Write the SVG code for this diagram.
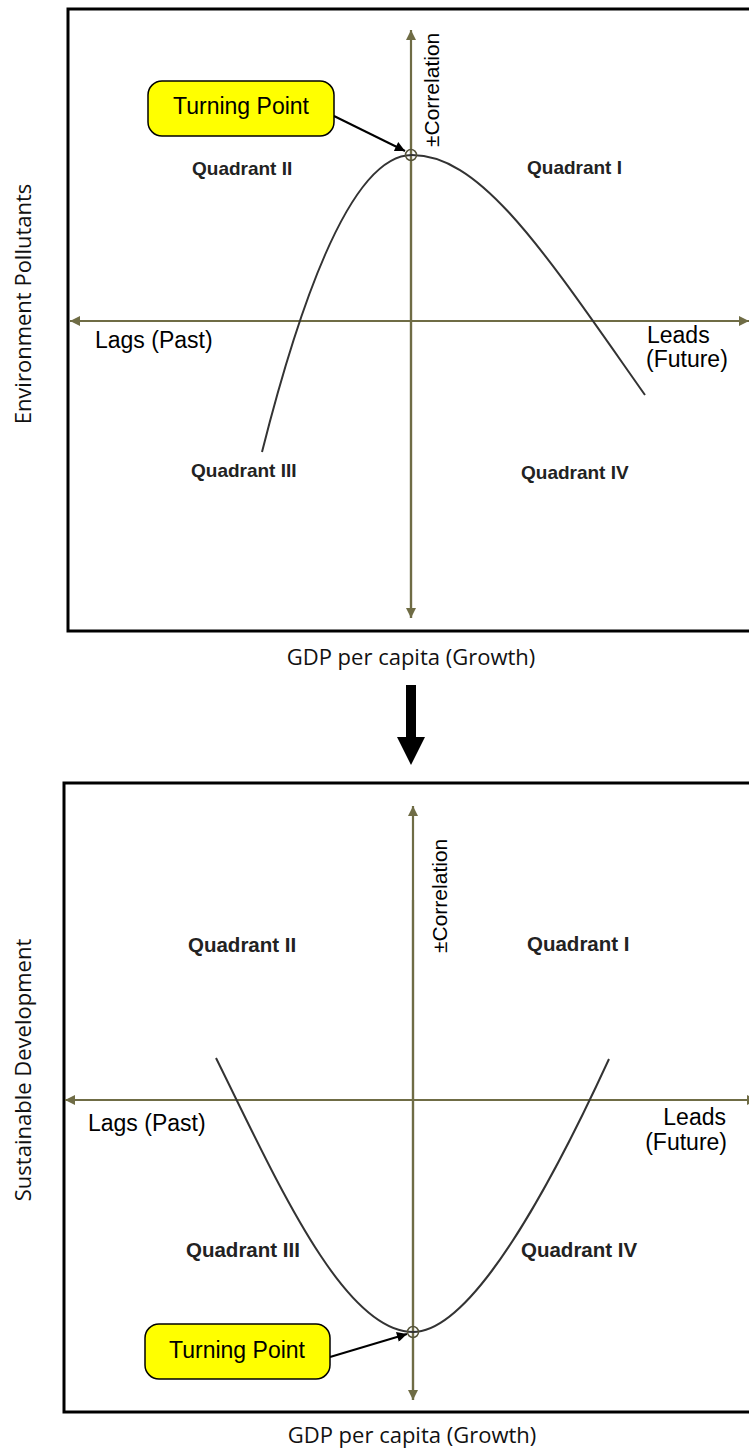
<svg xmlns="http://www.w3.org/2000/svg" width="749" height="1449" viewBox="0 0 749 1449">
<defs>
<marker id="ax" viewBox="0 0 10 10" refX="10" refY="5" markerWidth="10" markerHeight="10" markerUnits="userSpaceOnUse" orient="auto">
<path d="M0,0 L10,5 L0,10 Z" fill="#6f6c45"/>
</marker>
<marker id="bk" viewBox="0 0 10 10" refX="10" refY="5" markerWidth="11" markerHeight="10" markerUnits="userSpaceOnUse" orient="auto">
<path d="M0,0 L10,5 L0,10 Z" fill="#000"/>
</marker>
</defs>
<style>
.frame{fill:none;stroke:#000;stroke-width:3}
.axis{fill:none;stroke:#6f6c45;stroke-width:2.2}
.curve{fill:none;stroke:#333;stroke-width:2}
.tp{fill:none;stroke:#55533a;stroke-width:1.5}
.box{fill:#ffff00;stroke:#000;stroke-width:1.5}
.ptr{fill:none;stroke:#000;stroke-width:2}
.q{font-family:"Liberation Sans",Arial,sans-serif;font-weight:bold;fill:#222}
.t{font-family:"Liberation Sans",Arial,sans-serif;font-size:23px;fill:#000}
.c{font-family:"Liberation Sans",Arial,sans-serif;font-size:21px;fill:#000}
.lab{font-family:"Open Sans","Noto Sans",sans-serif;font-size:22px;fill:#111}
</style>
<rect width="749" height="1449" fill="#fff"/>

<g id="top-panel">
<rect class="frame" x="68" y="9" width="700" height="622"/>
</g>
<g id="bottom-panel">
<rect class="frame" x="64" y="783" width="700" height="629"/>
</g>

<g id="connectors">
<line class="axis" x1="411" y1="618" x2="411" y2="30" marker-end="url(#ax)"/>
<line class="axis" x1="411" y1="100" x2="411" y2="618" marker-end="url(#ax)"/>
<line class="axis" x1="411" y1="321" x2="70" y2="321" marker-end="url(#ax)"/>
<line class="axis" x1="411" y1="321" x2="749" y2="321" marker-end="url(#ax)"/>
<line class="axis" x1="413" y1="1400" x2="413" y2="806" marker-end="url(#ax)"/>
<line class="axis" x1="413" y1="900" x2="413" y2="1400" marker-end="url(#ax)"/>
<line class="axis" x1="413" y1="1100" x2="65" y2="1100" marker-end="url(#ax)"/>
<line class="axis" x1="413" y1="1100" x2="757" y2="1100" marker-end="url(#ax)"/>
<line class="ptr" x1="334" y1="116" x2="405" y2="151" marker-end="url(#bk)"/>
<line class="ptr" x1="330" y1="1357" x2="407" y2="1334" marker-end="url(#bk)"/>
<polygon points="406,685 416,685 416,737 425,737 411,765 397,737 406,737" fill="#000"/>
</g>

<g id="curve-top">
<path class="curve" d="M262,452 Q337,155 412,155 C482,155 545,253 645,395"/>
<circle class="tp" cx="411" cy="155" r="5.5"/>
</g>
<g id="curve-bottom">
<path class="curve" d="M216,1058 C275.5,1178 343,1332 413,1332 C473,1332 553.8,1179 609,1059"/>
<circle class="tp" cx="413" cy="1332" r="5.5"/>
</g>

<g id="turning-point-top">
<rect class="box" x="148" y="81" width="186" height="55" rx="14"/>
<text class="t" x="241" y="114" text-anchor="middle">Turning Point</text>
</g>
<g id="turning-point-bottom">
<rect class="box" x="145" y="1324" width="185" height="55" rx="14"/>
<text class="t" x="237" y="1358" text-anchor="middle">Turning Point</text>
</g>

<g id="labels-top">
<text class="c" transform="translate(439,147) rotate(-90)">±Correlation</text>
<text class="q" font-size="19" x="192" y="175">Quadrant II</text>
<text class="q" font-size="19" x="527" y="174">Quadrant I</text>
<text class="q" font-size="19" x="191" y="477">Quadrant III</text>
<text class="q" font-size="19" x="521" y="479">Quadrant IV</text>
<text class="t" x="95" y="348">Lags (Past)</text>
<text class="t" x="647" y="343">Leads</text>
<text class="t" x="646" y="367">(Future)</text>
<text class="lab" x="411" y="665" text-anchor="middle">GDP per capita (Growth)</text>
<text class="lab" transform="translate(31,304) rotate(-90)" text-anchor="middle">Environment Pollutants</text>
</g>

<g id="labels-bottom">
<text class="c" transform="translate(447,953) rotate(-90)">±Correlation</text>
<text class="q" font-size="20.5" x="188" y="952">Quadrant II</text>
<text class="q" font-size="20.5" x="527" y="951">Quadrant I</text>
<text class="q" font-size="20.5" x="186" y="1257">Quadrant III</text>
<text class="q" font-size="20.5" x="521" y="1257">Quadrant IV</text>
<text class="t" x="88" y="1131">Lags (Past)</text>
<text class="t" x="726" y="1125" text-anchor="end">Leads</text>
<text class="t" x="727" y="1150" text-anchor="end">(Future)</text>
<text class="lab" x="412" y="1443" text-anchor="middle">GDP per capita (Growth)</text>
<text class="lab" transform="translate(31,1070) rotate(-90)" text-anchor="middle">Sustainable Development</text>
</g>
</svg>
